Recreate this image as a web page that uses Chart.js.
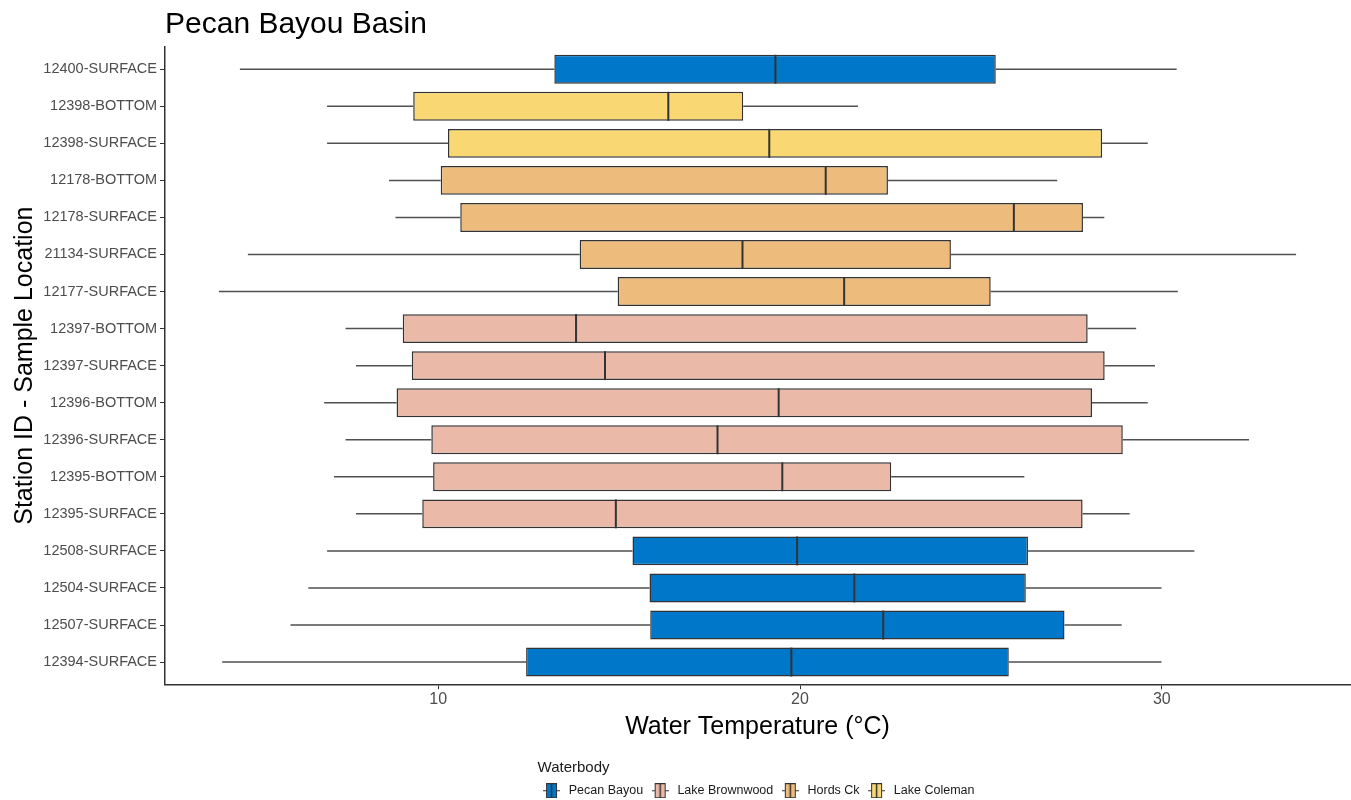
<!DOCTYPE html>
<html lang="en">
<head>
  <meta charset="UTF-8" />
  <title>Pecan Bayou Basin</title>
  <style>
    body { margin: 0; background: #ffffff; }
    .wrap { width: 1351px; height: 800px; position: relative; }
  </style>
</head>
<body>
  <div class="wrap"><canvas id="box"></canvas></div>

  <script src="https://cdn.jsdelivr.net/npm/chart.js"></script>
  <script>
    // station rows, top to bottom
    const stations = [
      "12400-SURFACE", "12398-BOTTOM", "12398-SURFACE", "12178-BOTTOM", "12178-SURFACE",
      "21134-SURFACE", "12177-SURFACE", "12397-BOTTOM", "12397-SURFACE", "12396-BOTTOM",
      "12396-SURFACE", "12395-BOTTOM", "12395-SURFACE", "12508-SURFACE", "12504-SURFACE",
      "12507-SURFACE", "12394-SURFACE"
    ];
    const waterbody = [
      "Pecan Bayou", "Lake Coleman", "Lake Coleman", "Hords Ck", "Hords Ck",
      "Hords Ck", "Hords Ck", "Lake Brownwood", "Lake Brownwood", "Lake Brownwood",
      "Lake Brownwood", "Lake Brownwood", "Lake Brownwood", "Pecan Bayou", "Pecan Bayou",
      "Pecan Bayou", "Pecan Bayou"
    ];
    const whiskerLow  = [4.52, 6.93, 6.93, 8.64, 8.82, 4.74, 3.94, 7.44, 7.73, 6.85, 7.44, 7.12, 7.73, 6.93, 6.41, 5.92, 4.03];
    const q1          = [13.21, 9.31, 10.27, 10.07, 10.61, 13.91, 14.96, 9.02, 9.27, 8.85, 9.81, 9.86, 9.56, 15.37, 15.84, 15.86, 12.43];
    const median      = [19.32, 16.36, 19.15, 20.71, 25.91, 18.41, 21.22, 13.81, 14.61, 19.41, 17.72, 19.51, 14.91, 19.92, 21.5, 22.3, 19.76];
    const q3          = [25.41, 18.43, 28.35, 22.43, 27.82, 24.17, 25.27, 27.95, 28.42, 28.07, 28.92, 22.52, 27.81, 26.3, 26.24, 27.31, 25.77];
    const whiskerHigh = [30.41, 21.6, 29.61, 27.11, 28.41, 33.71, 30.44, 29.29, 29.81, 29.61, 32.41, 26.2, 29.11, 30.9, 29.99, 28.89, 29.99];

    const groups = ["Pecan Bayou", "Lake Brownwood", "Hords Ck", "Lake Coleman"];
    const groupColors = ["#0077c8", "#eab9a8", "#edbb7b", "#f9d773"];
    const xTicks = [10, 20, 30];

    const boxPct = 0.78;

    Chart.defaults.font.family = '"Liberation Sans", Arial, sans-serif';

    // little boxplot key for the legend
    function makeGlyph(color) {
      const c = document.createElement("canvas");
      c.width = 17; c.height = 15;
      const g = c.getContext("2d");
      g.strokeStyle = "#333";
      g.lineWidth = 1;
      g.beginPath(); g.moveTo(0, 7.5); g.lineTo(4, 7.5); g.moveTo(13, 7.5); g.lineTo(17, 7.5); g.stroke();
      g.fillStyle = color;
      g.fillRect(3.5, 0.5, 10, 14);
      g.strokeRect(3.5, 0.5, 10, 14);
      g.lineWidth = 1.5;
      g.beginPath(); g.moveTo(8.5, 0.5); g.lineTo(8.5, 14.5); g.stroke();
      return c;
    }
    const glyphs = groupColors.map(makeGlyph);

    const datasets = groups.map((name, gi) => ({
      label: name,
      data: stations
        .map((s, i) => ({ y: i, x: [q1[i], q3[i]], wb: waterbody[i] }))
        .filter(d => d.wb === name),
      backgroundColor: groupColors[gi],
      borderColor: "#333333",
      borderWidth: 1.5,
      borderSkipped: false,
      grouped: false,
      barPercentage: boxPct,
      categoryPercentage: 1
    }));

    // whiskers behind the boxes, medians on top
    const boxParts = {
      id: "boxParts",
      beforeDatasetsDraw(chart) {
        const { ctx, scales: { x, y } } = chart;
        ctx.save();
        ctx.strokeStyle = "#505050";
        ctx.lineWidth = 1.5;
        stations.forEach((s, i) => {
          const py = y.getPixelForValue(i);
          ctx.beginPath();
          ctx.moveTo(x.getPixelForValue(whiskerLow[i]), py);
          ctx.lineTo(x.getPixelForValue(q1[i]), py);
          ctx.moveTo(x.getPixelForValue(q3[i]), py);
          ctx.lineTo(x.getPixelForValue(whiskerHigh[i]), py);
          ctx.stroke();
        });
        ctx.restore();
      },
      afterDatasetsDraw(chart) {
        const { ctx, scales: { x, y } } = chart;
        const half = (y.getPixelForValue(1) - y.getPixelForValue(0)) * boxPct / 2;
        ctx.save();
        ctx.strokeStyle = "#333";
        ctx.lineWidth = 2;
        stations.forEach((s, i) => {
          const py = y.getPixelForValue(i);
          const px = x.getPixelForValue(median[i]);
          ctx.beginPath();
          ctx.moveTo(px, py - half);
          ctx.lineTo(px, py + half);
          ctx.stroke();
        });
        ctx.restore();
      }
    };

    new Chart(document.getElementById("box"), {
      type: "bar",
      data: { datasets },
      plugins: [boxParts],
      options: {
        indexAxis: "y",
        responsive: true,
        maintainAspectRatio: false,
        animation: false,
        layout: { padding: { left: 0, right: 1, top: 0, bottom: -7 } },
        plugins: {
          tooltip: { enabled: false },
          title: {
            display: true,
            text: "Pecan Bayou Basin",
            align: "start",
            fullSize: false,
            color: "#000",
            font: { size: 30, weight: "normal" },
            padding: { top: 7, bottom: 4 }
          },
          legend: {
            position: "bottom",
            fullSize: false,
            title: {
              display: true,
              text: "Waterbody",
              position: "start",
              color: "#1a1a1a",
              font: { size: 15 },
              padding: { top: 14, bottom: 0 }
            },
            labels: {
              usePointStyle: true,
              pointStyleWidth: 22,
              padding: 6,
              color: "#1a1a1a",
              font: { size: 12.5 },
              generateLabels: chart => chart.data.datasets.map((ds, i) => ({
                text: ds.label,
                pointStyle: glyphs[i],
                fillStyle: ds.backgroundColor,
                strokeStyle: "#333",
                lineWidth: 1,
                hidden: false,
                datasetIndex: i
              }))
            }
          }
        },
        scales: {
          x: {
            type: "linear",
            min: 2.45,
            max: 35.2,
            afterBuildTicks: s => { s.ticks = xTicks.map(v => ({ value: v })); },
            ticks: { color: "#4d4d4d", font: { size: 16 }, padding: 1 },
            grid: { drawOnChartArea: false, tickLength: 5, color: "#333" },
            border: { color: "#333", width: 1.5 },
            title: {
              display: true,
              text: "Water Temperature (°C)",
              color: "#000",
              font: { size: 25 },
              padding: { top: 2, bottom: 4 }
            }
          },
          y: {
            type: "linear",
            reverse: true,
            offset: false,
            min: -0.6,
            max: stations.length - 0.4,
            afterBuildTicks: s => { s.ticks = stations.map((st, i) => ({ value: i })); },
            afterFit: s => { s.width = 165; },
            ticks: {
              autoSkip: false,
              color: "#4d4d4d",
              font: { size: 14.5 },
              padding: 3,
              callback: v => stations[v]
            },
            grid: { offset: false, drawOnChartArea: false, tickLength: 5, color: "#333" },
            border: { color: "#333", width: 1.5 },
            title: {
              display: true,
              text: "Station ID - Sample Location",
              color: "#000",
              font: { size: 25 },
              padding: { top: 10, bottom: 0 }
            }
          }
        }
      }
    });
  </script>
</body>
</html>
